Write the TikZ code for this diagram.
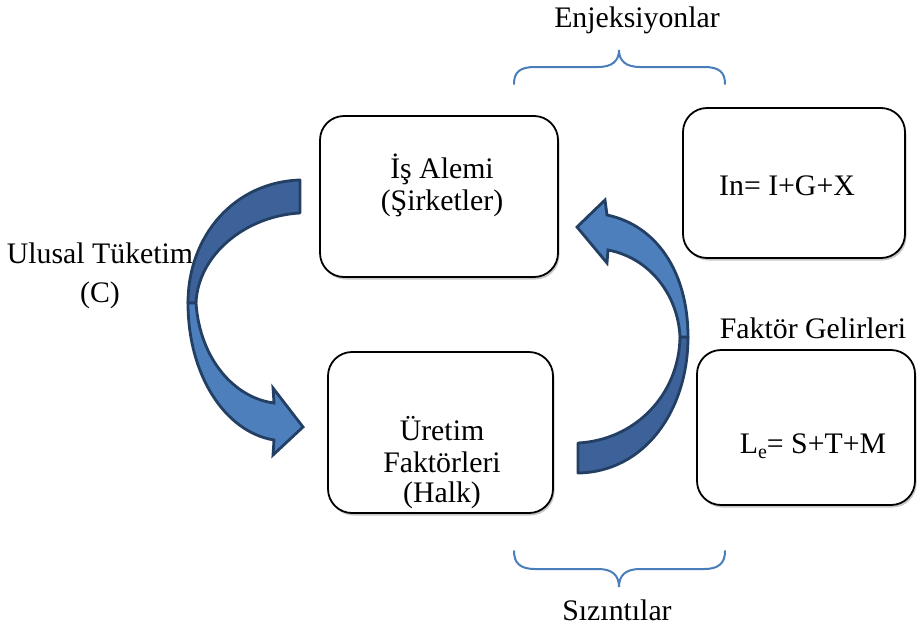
\documentclass[tikz,border=0pt]{standalone}
\usepackage{fontspec}
\setmainfont{Liberation Serif}
\usetikzlibrary{shadows}
\definecolor{arrowdark}{HTML}{3D6199}
\definecolor{arrowlight}{HTML}{4C7FBC}
\definecolor{arrowline}{HTML}{233F64}
\definecolor{bracecol}{HTML}{4A7EBB}
\tikzset{
  box/.style={draw=black, line width=1.8pt, rounded corners=24pt, fill=white,
    inner sep=0pt, outer sep=0pt,
    drop shadow={shadow xshift=1.5pt, shadow yshift=-2.5pt, opacity=0.22, fill=black}},
  txt/.style={font=\fontsize{29.8pt}{31.5pt}\selectfont, inner sep=0pt, anchor=base},
  brace/.style={draw=bracecol, line width=2pt, line cap=round},
  backpart/.style={fill=arrowdark, draw=arrowline, line width=2.8pt, line join=round},
  frontpart/.style={fill=arrowlight, draw=arrowline, line width=2.8pt, line join=miter},
}
\begin{document}
\begin{tikzpicture}[x=1pt,y=-1pt]
\useasboundingbox (0,0) rectangle (917,635);

% boxes
\node[box, minimum width=238pt, minimum height=161pt] (ia) at (439,196.5) {};
\node[box, minimum width=225pt, minimum height=161pt] (ur) at (440.5,432.5) {};
\node[box, minimum width=222pt, minimum height=150pt] (inj) at (794,183) {};
\node[box, minimum width=218pt, minimum height=155pt] (lek) at (806,427.5) {};

% box texts
\node[txt] (ia1) at (442,178) {İş Alemi};
\node[txt] (ia2) at (442,210) {(Şirketler)};
\node[txt] (ur1) at (442,440) {Üretim};
\node[txt] (ur2) at (442,472) {Faktörleri};
\node[txt] (ur3) at (442,502) {(Halk)};
\node[txt] (inj1) at (787,195) {In= I+G+X};
\node[txt] (lek1) at (813,453) {L\raisebox{-5pt}{\fontsize{20pt}{20pt}\selectfont e}= S+T+M};

% outside labels
\node[txt] (enj) at (637,27) {Enjeksiyonlar};
\node[txt] (siz) at (617,620) {Sızıntılar};
\node[txt] (ut1) at (100,263) {Ulusal Tüketim};
\node[txt] (ut2) at (100,302) {(C)};
\node[txt] (fg) at (813,338) {Faktör Gelirleri};

% braces
\draw[brace] (514,84) .. controls (514,72) and (520,67) .. (535,67) -- (598,67)
  .. controls (612,67) and (619,61) .. (619,50)
  .. controls (619,61) and (626,67) .. (640,67) -- (704,67)
  .. controls (719,67) and (725,72) .. (725,84);
\draw[brace] (514,551) .. controls (514,563) and (520,569) .. (535,569) -- (598,569)
  .. controls (612,569) and (619,575) .. (619,587)
  .. controls (619,575) and (626,569) .. (640,569) -- (704,569)
  .. controls (719,569) and (725,563) .. (725,551);

% left curved arrow (Ulusal Tüketim)
\path[backpart] (300,180) .. controls (235,182) and (188,235) .. (188,303)
  -- (196,303) .. controls (198,255) and (245,216) .. (300,213) -- cycle;
\path[frontpart] (188,303) .. controls (188,375) and (225,432) .. (274,440)
  -- (273,455) -- (303,427) -- (273,388) -- (274,403)
  .. controls (235,398) and (200,360) .. (196,303) -- cycle;

% right curved arrow (Faktör Gelirleri)
\path[backpart] (578,473) .. controls (645,472) and (688,410) .. (688,337)
  -- (680,337) .. controls (679,395) and (635,440) .. (578,443) -- cycle;
\path[frontpart] (688,337) .. controls (688,270) and (655,225) .. (607,215)
  -- (605,200) -- (577,227) -- (607,263) -- (608,250)
  .. controls (650,258) and (678,295) .. (680,337) -- cycle;
\end{tikzpicture}
\end{document}
